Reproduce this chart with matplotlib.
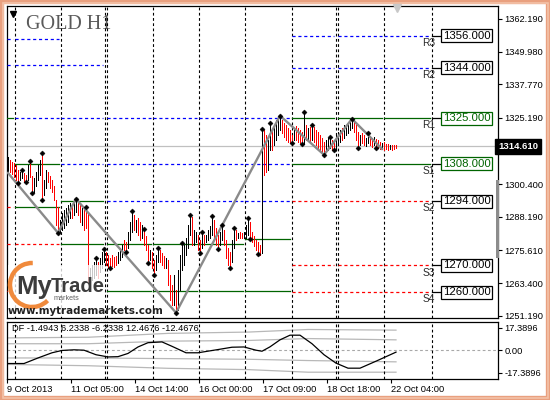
import matplotlib
matplotlib.use("Agg")
import matplotlib.pyplot as plt
import numpy as np
from matplotlib.patches import Rectangle, Arc
from matplotlib.transforms import blended_transform_factory

plt.rcParams["font.family"] = ["Liberation Sans", "DejaVu Sans"]

# ---- H1 bars (high / low, u = up bar, d = down bar) ----
bar_high = [
    1310.6, 1309.5, 1308.7, 1308.4, 1307.6, 1305.8, 1305.0, 1305.8, 1304.6, 1303.9,
    1307.6, 1309.1, 1303.5, 1302.8, 1305.0, 1307.6, 1309.5, 1312.1, 1302.0, 1305.8,
    1305.0, 1303.5, 1302.0, 1299.8, 1294.6, 1291.9, 1287.1, 1289.7, 1290.8, 1291.6,
    1292.7, 1293.4, 1292.7, 1294.6, 1294.9, 1293.8, 1292.7, 1291.6, 1290.8, 1291.9,
    1290.1, 1269.1, 1270.3, 1271.4, 1272.9, 1271.4, 1272.9, 1275.1, 1276.2, 1275.1,
    1274.0, 1272.9, 1274.0, 1273.2, 1273.6, 1275.1, 1276.6, 1277.7, 1279.6, 1278.9,
    1282.6, 1286.3, 1290.4, 1289.0, 1287.1, 1287.8, 1286.3, 1285.2, 1283.7, 1281.1,
    1277.7, 1275.9, 1275.1, 1272.1, 1274.0, 1276.6, 1275.9, 1274.7, 1273.6, 1272.9,
    1272.1, 1266.5, 1262.8, 1266.5, 1260.9, 1268.4, 1274.0, 1278.5, 1277.7, 1280.4,
    1285.2, 1289.0, 1288.2, 1283.3, 1282.6, 1281.5, 1279.6, 1282.6, 1281.5, 1281.5,
    1283.3, 1284.8, 1288.6, 1287.1, 1284.1, 1281.5, 1282.6, 1285.2, 1283.3, 1279.6,
    1276.6, 1275.1, 1279.6, 1284.1, 1283.3, 1282.2, 1282.6, 1282.2, 1282.6, 1285.2,
    1287.8, 1286.3, 1282.6, 1281.1, 1279.6, 1278.9, 1277.7, 1321.1, 1320.7, 1318.8,
    1317.0, 1323.3, 1321.5, 1322.6, 1324.4, 1325.2, 1326.0, 1324.4, 1323.3, 1322.6,
    1321.5, 1320.7, 1318.8, 1321.5, 1322.2, 1321.5, 1320.7, 1320.0, 1327.4, 1322.6,
    1321.5, 1321.8, 1322.6, 1321.8, 1320.7, 1320.0, 1318.8, 1317.7, 1316.2, 1317.0,
    1317.7, 1318.1, 1317.0, 1316.2, 1318.8, 1320.0, 1320.7, 1321.5, 1322.6, 1322.6,
    1323.7, 1324.4, 1324.8, 1324.1, 1322.6, 1320.0, 1318.8, 1319.6, 1318.8, 1317.7,
    1319.6, 1318.5, 1317.7, 1318.1, 1317.3, 1317.0, 1316.2, 1315.9, 1316.2, 1315.5,
    1315.5, 1315.1, 1315.1, 1315.1, 1315.1,
]
bar_low = [
    1305.0, 1305.0, 1304.3, 1303.1, 1302.0, 1300.9, 1302.0, 1302.8, 1301.3, 1301.3,
    1302.0, 1303.1, 1297.2, 1297.5, 1299.8, 1302.0, 1303.9, 1294.6, 1296.4, 1299.0,
    1301.3, 1299.0, 1297.5, 1294.6, 1285.2, 1282.2, 1282.6, 1283.3, 1284.1, 1285.2,
    1286.3, 1287.8, 1287.8, 1289.0, 1290.1, 1289.0, 1286.3, 1285.2, 1283.3, 1284.1,
    1263.9, 1263.9, 1264.7, 1265.4, 1266.5, 1265.4, 1267.6, 1269.1, 1271.4, 1270.3,
    1269.1, 1269.1, 1269.9, 1269.5, 1270.3, 1271.0, 1272.1, 1273.2, 1275.9, 1275.1,
    1276.6, 1279.6, 1282.6, 1283.3, 1282.6, 1281.5, 1279.6, 1280.4, 1277.7, 1275.9,
    1271.0, 1272.1, 1269.1, 1266.5, 1268.4, 1271.4, 1271.4, 1270.3, 1269.1, 1269.1,
    1262.8, 1257.2, 1255.3, 1255.3, 1252.3, 1253.4, 1260.9, 1268.4, 1270.3, 1274.0,
    1276.6, 1281.5, 1277.7, 1277.7, 1278.9, 1275.9, 1274.7, 1276.6, 1277.7, 1278.9,
    1279.6, 1280.4, 1281.5, 1280.4, 1277.7, 1276.2, 1277.7, 1279.6, 1277.7, 1272.9,
    1270.3, 1269.1, 1271.4, 1276.6, 1279.6, 1280.4, 1280.4, 1280.4, 1280.4, 1280.4,
    1281.5, 1280.0, 1278.9, 1277.4, 1275.9, 1274.4, 1274.0, 1274.7, 1303.9, 1305.0,
    1305.8, 1313.2, 1313.2, 1315.1, 1317.0, 1318.8, 1320.7, 1319.6, 1318.1, 1317.0,
    1316.2, 1315.9, 1315.9, 1317.0, 1317.0, 1316.2, 1315.9, 1315.5, 1315.5, 1317.0,
    1317.0, 1316.2, 1317.0, 1316.2, 1315.1, 1314.0, 1313.2, 1312.5, 1311.4, 1312.5,
    1313.2, 1314.0, 1313.2, 1313.2, 1314.0, 1315.1, 1316.2, 1317.0, 1317.7, 1318.8,
    1319.6, 1320.7, 1321.5, 1320.0, 1317.0, 1314.0, 1315.1, 1315.9, 1315.1, 1314.7,
    1315.9, 1315.1, 1314.4, 1315.1, 1314.0, 1314.0, 1313.6, 1313.6, 1313.2, 1313.6,
    1313.2, 1313.6, 1313.2, 1313.6, 1314.0,
]
bar_dir = (
    "uddddduudd" "udduuuuduu" "dddddduuuu" "uuduuddudd" "duuuuduuud"
    "ddddduuudd" "uuududdudd" "dudduudddu" "ddduduuuuu" "uuduuddudu"
    "uuuddduudd" "dduududduu" "uddddddudd" "uuduuuuddd" "ddduddddud"
    "ududdddddu" "uudduuuduu" "uuuddduddu" "uddudddudd" "duddd"
)
last_price = 1314.61

fractal_up = [7, 11, 17, 34, 39, 44, 48, 62, 68, 75, 87, 91, 97, 102, 107,
              113, 120, 127, 131, 136, 148, 152, 161, 172, 180]
fractal_down = [5, 9, 12, 17, 25, 51, 59, 70, 73, 84, 96, 105, 111, 121, 125,
                142, 147, 158, 163, 175, 184]

zigzag_bar = [0, 25, 34, 84, 136, 158, 172, 187]
zigzag_price = [1304.6, 1282.2, 1294.9, 1252.3, 1326.0, 1311.4, 1324.8, 1313.6]

# ---- day columns (bar units) ----
separators = [3.6, 26.6, 48.6, 49.6, 72.6, 95.6, 118.6, 141.8, 163.8, 164.8, 188.0, 211.8]
col_start = [-0.5, 3.6, 26.6, 49.6, 72.6, 95.6, 118.6, 141.8, 164.8, 188.0]
col_end = [3.6, 26.6, 48.6, 72.6, 95.6, 118.6, 141.8, 163.8, 188.0, 212.0]

# pivot segments: (price, first column, last column)
blue_levels = [(1354.7, 0, 1), (1344.9, 0, 2), (1325.0, 1, 6), (1308.0, 2, 6),
               (1294.0, 3, 6), (1356.0, 7, 9), (1344.0, 7, 9)]
green_levels = [(1325.0, 0, 0), (1308.0, 1, 1), (1291.9, 1, 1), (1294.2, 2, 2),
                (1278.0, 2, 5), (1280.0, 6, 6), (1260.5, 3, 6),
                (1325.0, 7, 9), (1308.0, 7, 9)]
red_levels = [(1291.9, 0, 0), (1278.0, 0, 1), (1260.5, 0, 0),
              (1294.0, 7, 9), (1270.0, 7, 9), (1260.0, 7, 9)]

pivot_names = ["R3", "R2", "R1", "S1", "S2", "S3", "S4"]
pivot_values = [1356.0, 1344.0, 1325.0, 1308.0, 1294.0, 1270.0, 1260.0]
pivot_green = [False, False, True, True, False, False, False]

price_ticks = [1362.19, 1349.98, 1337.77, 1325.19, 1312.98, 1300.40,
               1288.19, 1275.61, 1263.40, 1251.19]
time_ticks = [-0.5, 31.5, 63.5, 95.5, 127.5, 159.5, 191.5]
time_labels = ["9 Oct 2013", "11 Oct 05:00", "14 Oct 14:00", "16 Oct 00:00",
               "17 Oct 09:00", "18 Oct 18:00", "22 Oct 04:00"]

# ---- DF indicator ----
df_bar = [0, 8, 15, 22, 27, 33, 38, 44, 50, 55, 60, 65, 70, 77, 82, 89, 95,
          105, 112, 118, 124, 127, 131, 136, 141, 146, 152, 158, 164, 170,
          176, 184, 194]
df_val = [-10.3, -10.3, -6.0, -2.0, -0.2, 0.3, 0.0, -3.5, -5.2, -5.0, -2.5,
          2.5, 5.8, 6.4, 3.0, -2.0, -2.0, 0.5, 2.3, 2.5, 0.0, -0.8, 2.6, 8.0,
          11.6, 11.6, 5.0, -3.5, -10.0, -13.9, -13.9, -8.5, -1.5]
band_bar = [0, 40, 80, 120, 150, 194]
band_up2 = [9.5, 10.0, 13.0, 14.0, 16.0, 15.5]
band_up1 = [5.0, 5.0, 7.0, 7.5, 9.0, 8.0]
band_dn1 = [-6.0, -6.0, -6.5, -7.0, -8.0, -9.0]
band_dn2 = [-11.0, -12.0, -14.0, -15.0, -17.0, -17.0]
df_ticks = [17.3896, 0.0, -17.3896]
df_legend = "DF -1.4943 6.2338 -6.2338 12.4676 -12.4676"

W, H = 550, 400
GREEN = "#006400"

fig = plt.figure(figsize=(5.5, 4.0), dpi=100)
fig.patch.set_facecolor("white")
ax = fig.add_axes([7 / W, 1 - 318 / H, 491 / W, 312 / H])
axp = fig.add_axes([7 / W, 1 - 379 / H, 491 / W, 57 / H], sharex=ax)

for a in (ax, axp):
    for s in a.spines.values():
        s.set_linewidth(0.9)
        s.set_color("black")
    for sx in separators:
        a.axvline(sx, color="black", lw=0.8, dashes=(2.5, 2.2), zorder=3)

ax.set_xlim(-0.5, 245)
ax.set_ylim(1250.33, 1367.05)


def draw_levels(levels, color, dashed):
    for price, c0, c1 in levels:
        for c in range(c0, c1 + 1):
            kw = dict(dashes=(2.5, 2.2)) if dashed else {}
            ax.plot([col_start[c], col_end[c] - 1.0], [price, price],
                    color=color, lw=0.9, zorder=3, **kw)


draw_levels(blue_levels, "#0000ff", True)
draw_levels(red_levels, "#ff0000", True)
draw_levels(green_levels, GREEN, False)

ax.axhline(last_price, color="#c0c0c0", lw=0.9, zorder=2)

# bars
x = np.arange(len(bar_high))
colors = ["black" if d == "u" else "red" for d in bar_dir]
ax.vlines(x, bar_low, bar_high, colors=colors, lw=0.72, zorder=4,
          antialiased=False)

ax.plot(zigzag_bar, zigzag_price, color="#8a8a8a", lw=1.7, zorder=5)

ax.plot(fractal_up, [bar_high[i] for i in fractal_up], ls="none", marker="D",
        ms=2.6, mfc="black", mec="black", mew=0.3, zorder=6)
ax.plot(fractal_down, [bar_low[i] for i in fractal_down], ls="none", marker="D",
        ms=2.6, mfc="black", mec="black", mew=0.3, zorder=6)

# pivot labels
for name, val, green in zip(pivot_names, pivot_values, pivot_green):
    col = GREEN if green else "black"
    ax.plot([212.0, 216.5], [val, val], color="black", lw=0.9, zorder=6)
    ax.annotate(name, (210.3, val), xytext=(0, -1.5), textcoords="offset points",
                ha="center", va="top", fontsize=7.3, color="#2a2a2a", zorder=6)
    ax.text(217.4, val, f"{val:.3f}", ha="left", va="center", fontsize=8.2,
            color=col, zorder=7,
            bbox=dict(boxstyle="square,pad=0.13", fc="white", ec=col, lw=0.9))

# title
ax.text(0.039, 0.94, "GOLD H1", transform=ax.transAxes, ha="left", va="center",
        fontsize=14.5, family=["Liberation Serif", "DejaVu Serif"], color="#5a5a5a",
        zorder=1)

# price axis (the 1312.980 label sits under the last-price tag)
ax.yaxis.tick_right()
ax.set_yticks(price_ticks)
ax.set_yticklabels(["" if t == 1312.98 else f"{t:.3f}" for t in price_ticks])
ax.tick_params(axis="y", length=3, width=0.8, pad=1.5, labelsize=6.7)
ax.tick_params(axis="x", bottom=False, labelbottom=False)

tr = blended_transform_factory(ax.transAxes, ax.transData)
ax.text(1.0, last_price, "1314.610", transform=tr, ha="left", va="center",
        fontsize=6.8, fontweight="bold", color="white", zorder=10, clip_on=False,
        bbox=dict(boxstyle="square,pad=0.3", fc="black", ec="black"))

# indicator panel
axp.set_ylim(-22.26, 21.79)
axp.axhline(0, color="#a8a8a8", lw=0.8, dashes=(2.5, 2.2), zorder=2)
for band in (band_up2, band_up1, band_dn1, band_dn2):
    axp.plot(band_bar, band, color="#b8b8b8", lw=0.9, zorder=2)
axp.plot(df_bar, df_val, color="black", lw=0.9, zorder=4)
axp.text(0.011, 0.89, df_legend, transform=axp.transAxes, ha="left", va="center",
         fontsize=6.7, color="black", zorder=6)
axp.yaxis.tick_right()
axp.set_yticks(df_ticks)
axp.set_yticklabels(["17.3896", "0.00", "-17.3896"])
axp.tick_params(axis="y", length=3, width=0.8, pad=1.5, labelsize=6.7)
axp.set_xticks(time_ticks)
axp.set_xticklabels(time_labels, ha="left")
axp.tick_params(axis="x", length=3, width=0.8, pad=1.5, labelsize=6.7)

# overlay in pixel coordinates: frame, logo, scrollbar
ov = fig.add_axes([0, 0, 1, 1], zorder=5)
ov.set_xlim(0, W)
ov.set_ylim(H, 0)
ov.axis("off")
ov.patch.set_alpha(0)

ov.add_patch(Rectangle((0, 0), W, H, fill=False, ec="#e9a07f", lw=6))
ov.add_patch(Rectangle((2.5, 2.5), W - 5, H - 5, fill=False, ec="#f3c2a8", lw=1.2))
ov.add_patch(Rectangle((496, 180), 3, 78, fc="#8c8c8c", ec="none"))
ov.plot([13], [14], marker="v", ms=4, color="black")
ov.plot([397], [8], marker="v", ms=6, color="#c8c8c8")

ov.add_patch(Rectangle((8, 265), 97, 52, fc="white", ec="none", alpha=0.78))
ov.add_patch(Arc((32, 285), 44, 44, theta1=45, theta2=272, color="#f08a3c", lw=3.2))
ov.text(16, 294, "My", fontsize=18.5, fontweight="bold", color="#3c3c3c",
        ha="left", va="baseline")
ov.text(51, 292, "Trade", fontsize=14.5, fontweight="bold", color="#3c3c3c",
        ha="left", va="baseline")
ov.text(54, 299, "markets", fontsize=5.2, color="#606060", ha="left", va="center")
ov.text(8, 311, "www.mytrademarkets.com", fontsize=7.4, fontweight="bold",
        family=["DejaVu Sans"], color="#222222", ha="left", va="center")

fig.savefig("out.png", dpi=100)
